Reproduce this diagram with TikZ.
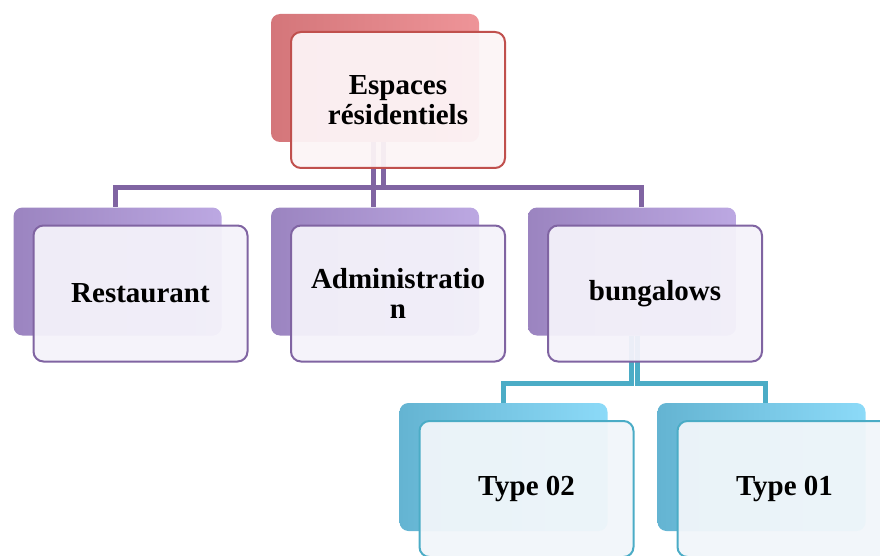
\documentclass[tikz,border=0pt]{standalone}
\usepackage{fontspec}
\setmainfont{Liberation Serif}
\usetikzlibrary{positioning,calc,backgrounds}
\definecolor{redE}{RGB}{192,80,77}
\definecolor{redD}{RGB}{212,118,122}
\definecolor{redL}{RGB}{238,148,152}
\definecolor{redF}{RGB}{252,244,246}
\definecolor{purE}{RGB}{128,100,162}
\definecolor{purD}{RGB}{155,132,192}
\definecolor{purL}{RGB}{188,168,226}
\definecolor{purF}{RGB}{244,242,250}
\definecolor{bluE}{RGB}{75,172,198}
\definecolor{bluD}{RGB}{100,180,210}
\definecolor{bluL}{RGB}{140,218,248}
\definecolor{bluF}{RGB}{241,246,250}
\tikzset{front/.style={draw, line width=2pt, rounded corners=10pt, minimum width=214pt, minimum height=136pt, inner sep=0pt, align=center, font=\fontsize{29}{30}\selectfont\bfseries, fill opacity=0.95, text opacity=1},
back/.style={rounded corners=9pt, minimum width=208pt, minimum height=128pt, inner sep=0pt},
link/.style={line width=5pt}}

\begin{document}
\begin{tikzpicture}[x=1pt, y=-1pt]
\useasboundingbox (0,0) rectangle (880,556);
\clip (0,0) rectangle (880,556);
\node[back, left color=redD, right color=redL] (B0) at (375,78) {};
\node[front, draw=redE, fill=redF] (N0) at ([shift={(23,22)}]B0) {Espaces\\résidentiels};
\node[back, left color=purD, right color=purL] (B1) at (117.5,271.5) {};
\node[front, draw=purE, fill=purF] (N1) at ([shift={(23,22)}]B1) {Restaurant};
\node[back, left color=purD, right color=purL] (B2) at (375,271.5) {};
\node[front, draw=purE, fill=purF] (N2) at ([shift={(23,22)}]B2) {Administratio\\n};
\node[back, left color=purD, right color=purL] (B3) at (632,271.5) {};
\node[front, draw=purE, fill=purF] (N3) at ([shift={(23,22)}]B3) {bungalows};
\node[back, left color=bluD, right color=bluL] (B4) at (503.5,467) {};
\node[front, draw=bluE, fill=bluF] (N4) at ([shift={(23,22)}]B4) {Type 02};
\node[back, left color=bluD, right color=bluL] (B5) at (761.5,467) {};
\node[front, draw=bluE, fill=bluF] (N5) at ([shift={(23,22)}]B5) {Type 01};
% connectors behind the boxes
\begin{scope}[on background layer]
\draw[link, purE] ([xshift=8pt]B0.south) -- ++(0,45) -| ([xshift=-2pt]B1.north)
	([xshift=8pt]B0.south) -- ++(0,45) -| ([xshift=9.5pt]B3.north);
\draw[link, purE] ([xshift=-2pt]B0.south) -- ([xshift=-2pt]B2.north);
\draw[link, bluE] ([xshift=-1pt]B3.south) -- ++(0,48) -| (B4.north)
	([xshift=5pt]B3.south) -- ++(0,48) -| ([xshift=4pt]B5.north);
\end{scope}
\end{tikzpicture}
\end{document}
